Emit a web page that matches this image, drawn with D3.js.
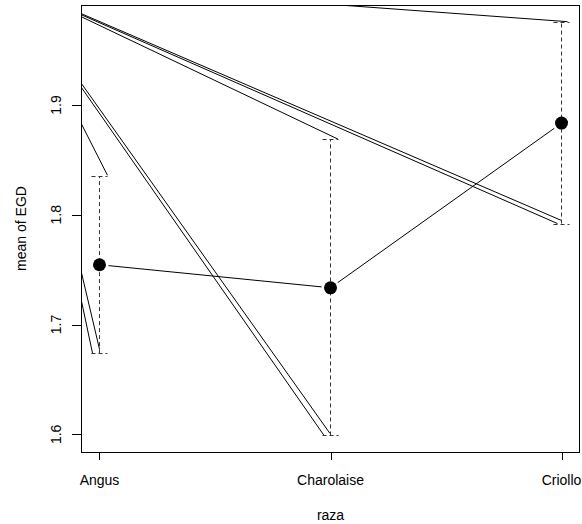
<!DOCTYPE html>
<html lang="en">
<head>
    <meta charset="UTF-8">
    <title>mean of EGD by raza</title>
    <script src="https://d3js.org/d3.v7.min.js"></script>
    <style>
        body { margin: 0; background: #fff; }
        svg text { font-family: "Liberation Sans", Arial, sans-serif; font-size: 14px; fill: #000; }
    </style>
</head>
<body>
<script>
    // group means with upper / lower confidence limits
    var groups = ["Angus", "Charolaise", "Criollo"];
    var means  = [1.7545, 1.7335, 1.8835];
    var upper  = [1.835, 1.869, 1.976];
    var lower  = [1.674, 1.599, 1.792];
    var yTicks = [1.6, 1.7, 1.8, 1.9];

    // the stray solid arrow-head strokes, in data units [x1, y1, x2, y2]
    var headLines = [
        [0.92, 1.8835, 1.0346, 1.836],
        [0.92, 1.749, 1.0, 1.6777],
        [0.92, 1.7234, 0.9698, 1.674],
        [0.92, 1.9805, 2.0324, 1.8689],
        [0.92, 1.9201, 1.9978, 1.6008],
        [0.92, 1.9165, 1.972, 1.599],
        [2.0108, 1.9915, 3.026, 1.9759],
        [0.92, 1.9833, 3.0, 1.7948],
        [0.92, 1.9823, 2.9827, 1.792]
    ];

    var w = 582, h = 524;
    var padL = 81, padR = 580, padT = 5, padB = 452;

    var svg = d3.select("body").append("svg")
        .attr("width", w)
        .attr("height", h);

    // R style 4% range expansion
    var idx = groups.map(function(d, i) { return i + 1; });
    var xPad = (d3.max(idx) - d3.min(idx)) * 0.04;
    var x = d3.scaleLinear()
        .domain([d3.min(idx) - xPad, d3.max(idx) + xPad])
        .range([padL, padR]);

    var yMin = d3.min(lower), yMax = d3.max(upper);
    var yPad = (yMax - yMin) * 0.04;
    var y = d3.scaleLinear()
        .domain([yMin - yPad, yMax + yPad])
        .range([padB, padT]);

    svg.append("clipPath").attr("id", "plotclip")
        .append("rect")
        .attr("x", padL).attr("y", padT)
        .attr("width", padR - padL).attr("height", padB - padT);

    var plot = svg.append("g").attr("clip-path", "url(#plotclip)");

    // arrow-head strokes
    plot.selectAll("line.head")
        .data(headLines)
        .enter()
        .append("line")
        .attr("class", "head")
        .attr("x1", function(d) { return x(d[0]); })
        .attr("y1", function(d) { return y(d[1]); })
        .attr("x2", function(d) { return x(d[2]); })
        .attr("y2", function(d) { return y(d[3]); })
        .attr("stroke", "#000")
        .attr("stroke-width", 1);

    // dashed error bars
    plot.selectAll("line.bar")
        .data(groups)
        .enter()
        .append("line")
        .attr("class", "bar")
        .attr("x1", function(d, i) { return x(i + 1); })
        .attr("x2", function(d, i) { return x(i + 1); })
        .attr("y1", function(d, i) { return y(lower[i]); })
        .attr("y2", function(d, i) { return y(upper[i]); })
        .attr("stroke", "#333")
        .attr("stroke-dasharray", "4,3");

    var caps = [];
    groups.forEach(function(d, i) {
        caps.push({ i: i, v: upper[i] });
        caps.push({ i: i, v: lower[i] });
    });
    plot.selectAll("line.cap")
        .data(caps)
        .enter()
        .append("line")
        .attr("class", "cap")
        .attr("x1", function(d) { return x(d.i + 1) - 8; })
        .attr("x2", function(d) { return x(d.i + 1) + 8; })
        .attr("y1", function(d) { return Math.round(y(d.v)) + 0.5; })
        .attr("y2", function(d) { return Math.round(y(d.v)) + 0.5; })
        .attr("stroke", "#333")
        .attr("stroke-dasharray", "4,3");

    // type "b" line: segments with a gap around each point
    var gap = 9;
    var segs = d3.pairs(means.map(function(m, i) { return [x(i + 1), y(m)]; }));
    plot.selectAll("line.mean")
        .data(segs)
        .enter()
        .append("line")
        .attr("class", "mean")
        .each(function(s) {
            var dx = s[1][0] - s[0][0], dy = s[1][1] - s[0][1];
            var len = Math.sqrt(dx * dx + dy * dy);
            var ux = dx / len, uy = dy / len;
            d3.select(this)
                .attr("x1", s[0][0] + ux * gap)
                .attr("y1", s[0][1] + uy * gap)
                .attr("x2", s[1][0] - ux * gap)
                .attr("y2", s[1][1] - uy * gap);
        })
        .attr("stroke", "#000");

    plot.selectAll("circle")
        .data(means)
        .enter()
        .append("circle")
        .attr("cx", function(d, i) { return x(i + 1); })
        .attr("cy", function(d) { return y(d); })
        .attr("r", 6.5)
        .attr("fill", "#000");

    // frame
    svg.append("rect")
        .attr("x", padL + 0.5).attr("y", padT + 0.5)
        .attr("width", padR - padL - 1).attr("height", padB - padT)
        .attr("fill", "none")
        .attr("stroke", "#000");

    // x axis ticks and labels
    svg.selectAll("line.xtick")
        .data(groups)
        .enter()
        .append("line")
        .attr("x1", function(d, i) { return Math.round(x(i + 1)) + 0.5; })
        .attr("x2", function(d, i) { return Math.round(x(i + 1)) + 0.5; })
        .attr("y1", padB)
        .attr("y2", padB + 8)
        .attr("stroke", "#000");

    svg.selectAll("text.xlab")
        .data(groups)
        .enter()
        .append("text")
        .attr("x", function(d, i) { return x(i + 1); })
        .attr("y", 485)
        .attr("text-anchor", "middle")
        .text(function(d) { return d; });

    // y axis ticks and labels
    svg.selectAll("line.ytick")
        .data(yTicks)
        .enter()
        .append("line")
        .attr("x1", padL - 9)
        .attr("x2", padL)
        .attr("y1", function(d) { return Math.round(y(d)) + 0.5; })
        .attr("y2", function(d) { return Math.round(y(d)) + 0.5; })
        .attr("stroke", "#000");

    svg.selectAll("text.ylab")
        .data(yTicks)
        .enter()
        .append("text")
        .attr("transform", function(d) { return "translate(61," + y(d) + ") rotate(-90)"; })
        .attr("text-anchor", "middle")
        .text(function(d) { return d3.format(".1f")(d); });

    // axis titles
    svg.append("text")
        .attr("x", (padL + padR) / 2)
        .attr("y", 520)
        .attr("text-anchor", "middle")
        .text("raza");

    svg.append("text")
        .attr("transform", "translate(26," + (padT + padB) / 2 + ") rotate(-90)")
        .attr("text-anchor", "middle")
        .text("mean of EGD");
</script>
</body>
</html>
